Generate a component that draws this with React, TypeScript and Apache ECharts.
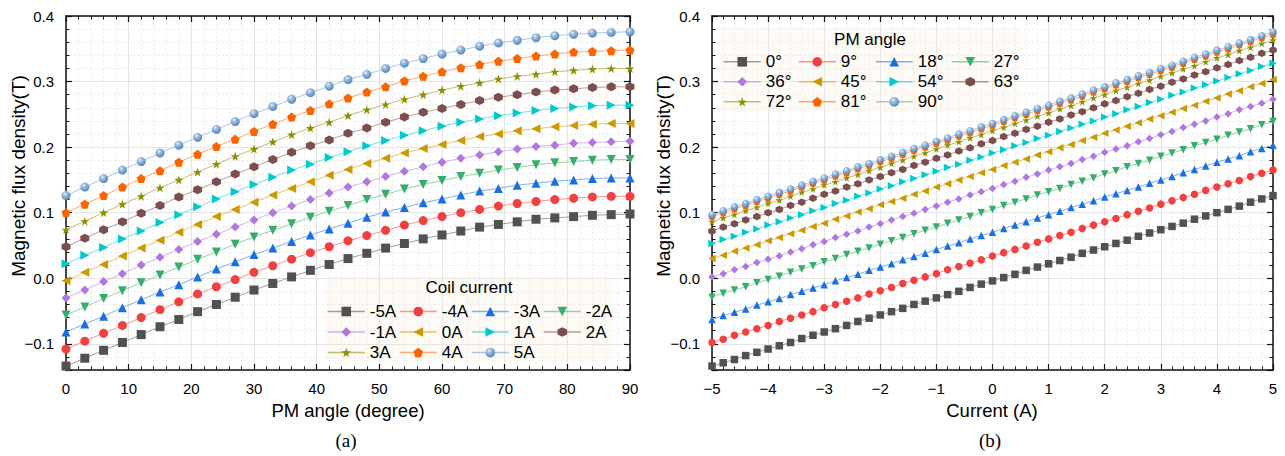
import React, { useEffect, useRef } from "react";
import * as echarts from "echarts";

// ---------- Data: chart (a) B vs PM angle for each coil current ----------
const pmAngles = [0, 3, 6, 9, 12, 15, 18, 21, 24, 27, 30, 33, 36, 39, 42, 45, 48, 51, 54, 57, 60, 63, 66, 69, 72, 75, 78, 81, 84, 87, 90];
const coilNames = ["-5A", "-4A", "-3A", "-2A", "-1A", "0A", "1A", "2A", "3A", "4A", "5A"];
const bCoilM5 = [-0.134, -0.122, -0.110, -0.098, -0.086, -0.074, -0.063, -0.051, -0.040, -0.029, -0.018, -0.008, 0.002, 0.012, 0.021, 0.030, 0.038, 0.046, 0.053, 0.060, 0.066, 0.072, 0.078, 0.082, 0.086, 0.090, 0.092, 0.094, 0.096, 0.097, 0.098];
const bCoilM4 = [-0.108, -0.096, -0.084, -0.072, -0.060, -0.048, -0.036, -0.024, -0.013, -0.002, 0.009, 0.019, 0.029, 0.039, 0.048, 0.057, 0.065, 0.073, 0.081, 0.088, 0.094, 0.100, 0.105, 0.110, 0.114, 0.117, 0.120, 0.122, 0.124, 0.125, 0.125];
const bCoilM3 = [-0.082, -0.070, -0.058, -0.045, -0.033, -0.021, -0.010, 0.002, 0.014, 0.025, 0.036, 0.046, 0.056, 0.066, 0.075, 0.084, 0.093, 0.101, 0.108, 0.115, 0.121, 0.127, 0.133, 0.137, 0.142, 0.145, 0.148, 0.150, 0.152, 0.153, 0.153];
const bCoilM2 = [-0.056, -0.044, -0.031, -0.019, -0.007, 0.005, 0.017, 0.029, 0.040, 0.052, 0.063, 0.073, 0.083, 0.093, 0.102, 0.111, 0.120, 0.128, 0.136, 0.143, 0.149, 0.155, 0.160, 0.165, 0.169, 0.173, 0.176, 0.178, 0.180, 0.181, 0.181];
const bCoilM1 = [-0.030, -0.018, -0.005, 0.007, 0.020, 0.032, 0.044, 0.056, 0.067, 0.078, 0.089, 0.100, 0.110, 0.120, 0.130, 0.139, 0.147, 0.155, 0.163, 0.170, 0.177, 0.183, 0.188, 0.193, 0.197, 0.201, 0.203, 0.206, 0.207, 0.208, 0.209];
const bCoil0 = [-0.004, 0.009, 0.021, 0.034, 0.046, 0.058, 0.070, 0.082, 0.094, 0.105, 0.116, 0.127, 0.137, 0.147, 0.157, 0.166, 0.175, 0.183, 0.191, 0.198, 0.204, 0.210, 0.216, 0.220, 0.225, 0.228, 0.231, 0.233, 0.235, 0.236, 0.236];
const bCoilP1 = [0.022, 0.035, 0.047, 0.060, 0.072, 0.085, 0.097, 0.109, 0.121, 0.132, 0.143, 0.154, 0.165, 0.174, 0.184, 0.193, 0.202, 0.210, 0.218, 0.225, 0.232, 0.238, 0.243, 0.248, 0.252, 0.256, 0.259, 0.261, 0.263, 0.264, 0.264];
const bCoilP2 = [0.048, 0.061, 0.074, 0.086, 0.099, 0.111, 0.124, 0.135, 0.147, 0.159, 0.170, 0.181, 0.192, 0.202, 0.211, 0.221, 0.229, 0.238, 0.246, 0.253, 0.259, 0.265, 0.271, 0.276, 0.280, 0.284, 0.287, 0.289, 0.291, 0.292, 0.292];
const bCoilP3 = [0.074, 0.087, 0.100, 0.113, 0.125, 0.138, 0.150, 0.162, 0.174, 0.186, 0.197, 0.208, 0.219, 0.229, 0.238, 0.248, 0.257, 0.265, 0.273, 0.280, 0.287, 0.293, 0.298, 0.304, 0.308, 0.311, 0.315, 0.317, 0.319, 0.320, 0.320];
const bCoilP4 = [0.100, 0.113, 0.126, 0.139, 0.152, 0.164, 0.177, 0.189, 0.201, 0.212, 0.224, 0.235, 0.246, 0.256, 0.266, 0.275, 0.284, 0.292, 0.301, 0.308, 0.315, 0.321, 0.326, 0.331, 0.335, 0.339, 0.342, 0.345, 0.346, 0.347, 0.348];
const bCoilP5 = [0.126, 0.139, 0.152, 0.165, 0.178, 0.191, 0.203, 0.215, 0.227, 0.239, 0.251, 0.262, 0.273, 0.283, 0.293, 0.303, 0.311, 0.320, 0.328, 0.335, 0.342, 0.348, 0.354, 0.359, 0.363, 0.367, 0.370, 0.372, 0.374, 0.375, 0.376];
const coilSeries = [bCoilM5, bCoilM4, bCoilM3, bCoilM2, bCoilM1, bCoil0, bCoilP1, bCoilP2, bCoilP3, bCoilP4, bCoilP5];

// ---------- Data: chart (b) B vs current for each PM angle ----------
const currents = [-5, -4.8, -4.6, -4.4, -4.2, -4, -3.8, -3.6, -3.4, -3.2, -3, -2.8, -2.6, -2.4, -2.2, -2, -1.8, -1.6, -1.4, -1.2, -1, -0.8, -0.6, -0.4, -0.2, 0, 0.2, 0.4, 0.6, 0.8, 1, 1.2, 1.4, 1.6, 1.8, 2, 2.2, 2.4, 2.6, 2.8, 3, 3.2, 3.4, 3.6, 3.8, 4, 4.2, 4.4, 4.6, 4.8, 5];
const angleNames = ["0°", "9°", "18°", "27°", "36°", "45°", "54°", "63°", "72°", "81°", "90°"];
const bAng0 = [-0.134, -0.129, -0.124, -0.118, -0.113, -0.108, -0.103, -0.098, -0.092, -0.087, -0.082, -0.077, -0.072, -0.066, -0.061, -0.056, -0.051, -0.046, -0.040, -0.035, -0.030, -0.025, -0.020, -0.014, -0.009, -0.004, 0.001, 0.006, 0.012, 0.017, 0.022, 0.027, 0.032, 0.038, 0.043, 0.048, 0.053, 0.058, 0.064, 0.069, 0.074, 0.079, 0.084, 0.090, 0.095, 0.100, 0.105, 0.110, 0.116, 0.121, 0.126];
const bAng9 = [-0.098, -0.093, -0.087, -0.082, -0.077, -0.072, -0.066, -0.061, -0.056, -0.051, -0.045, -0.040, -0.035, -0.030, -0.024, -0.019, -0.014, -0.008, -0.003, 0.002, 0.007, 0.013, 0.018, 0.023, 0.028, 0.034, 0.039, 0.044, 0.049, 0.055, 0.060, 0.065, 0.070, 0.076, 0.081, 0.086, 0.091, 0.097, 0.102, 0.107, 0.113, 0.118, 0.123, 0.128, 0.134, 0.139, 0.144, 0.149, 0.155, 0.160, 0.165];
const bAng18 = [-0.063, -0.057, -0.052, -0.047, -0.041, -0.036, -0.031, -0.025, -0.020, -0.015, -0.010, -0.004, 0.001, 0.006, 0.012, 0.017, 0.022, 0.028, 0.033, 0.038, 0.044, 0.049, 0.054, 0.060, 0.065, 0.070, 0.076, 0.081, 0.086, 0.092, 0.097, 0.102, 0.108, 0.113, 0.118, 0.124, 0.129, 0.134, 0.139, 0.145, 0.150, 0.155, 0.161, 0.166, 0.171, 0.177, 0.182, 0.187, 0.193, 0.198, 0.203];
const bAng27 = [-0.029, -0.023, -0.018, -0.013, -0.007, -0.002, 0.003, 0.009, 0.014, 0.019, 0.025, 0.030, 0.036, 0.041, 0.046, 0.052, 0.057, 0.062, 0.068, 0.073, 0.078, 0.084, 0.089, 0.094, 0.100, 0.105, 0.111, 0.116, 0.121, 0.127, 0.132, 0.137, 0.143, 0.148, 0.153, 0.159, 0.164, 0.170, 0.175, 0.180, 0.186, 0.191, 0.196, 0.202, 0.207, 0.212, 0.218, 0.223, 0.228, 0.234, 0.239];
const bAng36 = [0.002, 0.007, 0.013, 0.018, 0.024, 0.029, 0.034, 0.040, 0.045, 0.051, 0.056, 0.062, 0.067, 0.072, 0.078, 0.083, 0.089, 0.094, 0.099, 0.105, 0.110, 0.116, 0.121, 0.127, 0.132, 0.137, 0.143, 0.148, 0.154, 0.159, 0.165, 0.170, 0.175, 0.181, 0.186, 0.192, 0.197, 0.202, 0.208, 0.213, 0.219, 0.224, 0.230, 0.235, 0.240, 0.246, 0.251, 0.257, 0.262, 0.267, 0.273];
const bAng45 = [0.030, 0.035, 0.041, 0.046, 0.051, 0.057, 0.062, 0.068, 0.073, 0.079, 0.084, 0.090, 0.095, 0.101, 0.106, 0.112, 0.117, 0.122, 0.128, 0.133, 0.139, 0.144, 0.150, 0.155, 0.161, 0.166, 0.172, 0.177, 0.182, 0.188, 0.193, 0.199, 0.204, 0.210, 0.215, 0.221, 0.226, 0.232, 0.237, 0.243, 0.248, 0.253, 0.259, 0.264, 0.270, 0.275, 0.281, 0.286, 0.292, 0.297, 0.303];
const bAng54 = [0.053, 0.059, 0.064, 0.070, 0.075, 0.081, 0.086, 0.092, 0.097, 0.103, 0.108, 0.114, 0.119, 0.125, 0.130, 0.136, 0.141, 0.147, 0.152, 0.158, 0.163, 0.169, 0.174, 0.180, 0.185, 0.191, 0.196, 0.202, 0.207, 0.213, 0.218, 0.224, 0.229, 0.235, 0.240, 0.246, 0.251, 0.257, 0.262, 0.268, 0.273, 0.279, 0.284, 0.290, 0.295, 0.301, 0.306, 0.312, 0.317, 0.323, 0.328];
const bAng63 = [0.072, 0.078, 0.083, 0.089, 0.094, 0.100, 0.105, 0.111, 0.116, 0.122, 0.128, 0.133, 0.139, 0.144, 0.150, 0.155, 0.161, 0.166, 0.172, 0.177, 0.183, 0.188, 0.194, 0.199, 0.205, 0.210, 0.216, 0.221, 0.227, 0.232, 0.238, 0.243, 0.249, 0.254, 0.260, 0.266, 0.271, 0.277, 0.282, 0.288, 0.293, 0.299, 0.304, 0.310, 0.315, 0.321, 0.326, 0.332, 0.337, 0.343, 0.348];
const bAng72 = [0.086, 0.092, 0.097, 0.103, 0.108, 0.114, 0.119, 0.125, 0.131, 0.136, 0.142, 0.147, 0.153, 0.158, 0.164, 0.169, 0.175, 0.180, 0.186, 0.191, 0.197, 0.203, 0.208, 0.214, 0.219, 0.225, 0.230, 0.236, 0.241, 0.247, 0.252, 0.258, 0.263, 0.269, 0.275, 0.280, 0.286, 0.291, 0.297, 0.302, 0.308, 0.313, 0.319, 0.324, 0.330, 0.336, 0.341, 0.347, 0.352, 0.358, 0.363];
const bAng81 = [0.094, 0.100, 0.106, 0.111, 0.117, 0.122, 0.128, 0.133, 0.139, 0.145, 0.150, 0.156, 0.161, 0.167, 0.172, 0.178, 0.183, 0.189, 0.195, 0.200, 0.206, 0.211, 0.217, 0.222, 0.228, 0.233, 0.239, 0.245, 0.250, 0.256, 0.261, 0.267, 0.272, 0.278, 0.284, 0.289, 0.295, 0.300, 0.306, 0.311, 0.317, 0.322, 0.328, 0.334, 0.339, 0.345, 0.350, 0.356, 0.361, 0.367, 0.372];
const bAng90 = [0.097, 0.103, 0.109, 0.114, 0.120, 0.125, 0.131, 0.136, 0.142, 0.148, 0.153, 0.159, 0.164, 0.170, 0.175, 0.181, 0.186, 0.192, 0.198, 0.203, 0.209, 0.214, 0.220, 0.225, 0.231, 0.236, 0.242, 0.248, 0.253, 0.259, 0.264, 0.270, 0.275, 0.281, 0.287, 0.292, 0.298, 0.303, 0.309, 0.314, 0.320, 0.325, 0.331, 0.337, 0.342, 0.348, 0.353, 0.359, 0.364, 0.370, 0.376];
const angleSeries = [bAng0, bAng9, bAng18, bAng27, bAng36, bAng45, bAng54, bAng63, bAng72, bAng81, bAng90];

// ---------- Styling ----------
const FONT = "'Liberation Sans', Arial, Helvetica, sans-serif";
const SERIF = "'Liberation Serif', 'Times New Roman', serif";
const colors = ["#515151", "#F14040", "#1A6FDF", "#37AD6B", "#B177DE", "#CC9900", "#00CBCC", "#7D4E4E", "#8E8E00", "#FB6501", "#6699CC"];
const symbols = [
  "rect",
  "circle",
  "triangle",
  "path://M0,0 L100,0 L50,87 Z",
  "diamond",
  "path://M0,50 L87,0 L87,100 Z",
  "path://M0,0 L87,50 L0,100 Z",
  "path://M50,0 L93.3,25 L93.3,75 L50,100 L6.7,75 L6.7,25 Z",
  "path://M50,0 L61.8,35.1 L98.9,35.1 L68.9,56.8 L80.3,91.9 L50,70.2 L19.7,91.9 L31.1,56.8 L1.1,35.1 L38.2,35.1 Z",
  "path://M50,0 L97.6,34.5 L79.4,90.5 L20.6,90.5 L2.4,34.5 Z",
  "circle",
];

function rgba(hex: string, a: number) {
  const n = parseInt(hex.slice(1), 16);
  return `rgba(${(n >> 16) & 255},${(n >> 8) & 255},${n & 255},${a})`;
}

function fillFor(i: number): any {
  if (i === 10) {
    return {
      type: "radial", x: 0.38, y: 0.32, r: 0.72,
      colorStops: [
        { offset: 0, color: "#eef4fb" },
        { offset: 0.3, color: "#9dbfe2" },
        { offset: 1, color: "#4d80b8" },
      ],
    };
  }
  return colors[i];
}

const AX = "#111";
const tickLabel = { fontSize: 15, fontFamily: FONT, color: "#000" };

function fmtY(v: number) {
  if (Math.abs(v * 10 - Math.round(v * 10)) > 1e-6) return "";
  const s = v.toFixed(1);
  return s.startsWith("-") ? "\u2212" + s.slice(1) : s;
}
function fmtX(v: number) {
  return v < 0 ? "\u2212" + Math.abs(v) : String(v);
}

function xAxes(gridIndex: number, min: number, max: number, interval: number, fmt: (v: number) => string) {
  const common = {
    type: "value", gridIndex, min, max, interval,
    axisLine: { show: true, onZero: false, lineStyle: { color: AX, width: 1.5 } },
    axisTick: { show: true, inside: true, length: 6, lineStyle: { color: AX, width: 1.2 } },
    minorTick: { show: true, splitNumber: 5, length: 3.5, lineStyle: { color: AX, width: 1 } },
  };
  return [
    {
      ...common, position: "bottom",
      axisLabel: { ...tickLabel, margin: 11, formatter: fmt },
      splitLine: { show: true, lineStyle: { color: "#e4e4e4", width: 1 } },
      minorSplitLine: { show: true, lineStyle: { color: "#ececec", width: 1, type: [2, 2] } },
    },
    {
      ...common, position: "top",
      axisLabel: { show: false },
      splitLine: { show: false },
      minorSplitLine: { show: false },
    },
  ];
}

function yAxes(gridIndex: number) {
  const base = { type: "value", gridIndex, min: -0.14, max: 0.4 };
  const line = { show: true, onZero: false, lineStyle: { color: AX, width: 1.5 } };
  const major = (position: string, labels: boolean) => ({
    ...base, position, splitNumber: 5,
    axisLine: line,
    axisTick: { show: true, inside: true, length: 6, lineStyle: { color: AX, width: 1.2 } },
    axisLabel: labels ? { ...tickLabel, margin: 12, formatter: fmtY } : { show: false },
    splitLine: labels ? { show: true, lineStyle: { color: "#e4e4e4", width: 1 } } : { show: false },
  });
  const minor = (position: string, grid: boolean) => ({
    ...base, position, interval: 0.02,
    axisLine: { show: false, onZero: false },
    axisTick: { show: true, inside: true, length: 3.5, lineStyle: { color: AX, width: 1 } },
    axisLabel: { show: false },
    splitLine: grid ? { show: true, lineStyle: { color: "#ececec", width: 1, type: [2, 2] } } : { show: false },
  });
  return [minor("left", true), major("left", true), major("right", false), minor("right", false)];
}

function makeSeries(names: string[], xs: number[], ys: number[][], xIdx: number, yIdx: number, size: number) {
  return names.map((name, i) => ({
    type: "line", name, xAxisIndex: xIdx, yAxisIndex: yIdx,
    data: xs.map((x, k) => [x, ys[i][k]]),
    symbol: symbols[i], symbolSize: size, showSymbol: true,
    itemStyle: { color: fillFor(i) },
    lineStyle: { color: rgba(colors[i], 0.55), width: 1 },
    emphasis: { disabled: true }, silent: true, animation: false,
  }));
}

function makeLegends(names: string[], cols: number[], rows: number[]) {
  return names.map((name, i) => ({
    data: [name], left: cols[i % 4], top: rows[Math.floor(i / 4)] - 6,
    padding: 0, itemWidth: 37, itemHeight: 12, itemGap: 0, selectedMode: false,
    textStyle: { fontSize: 17, fontFamily: FONT, color: "#000", lineHeight: 12 },
    lineStyle: { width: 1.5 },
  }));
}

export default function App() {
  const ref = useRef<HTMLDivElement>(null);
  useEffect(() => {
    document.body.style.margin = "0";
    const chart = echarts.init(ref.current!, undefined, { renderer: "svg" });
    const xa = [...xAxes(0, 0, 90, 10, (v) => String(v)), ...xAxes(1, -5, 5, 1, fmtX)];
    const ya = [...yAxes(0), ...yAxes(1)];
    const series = [
      ...makeSeries(coilNames, pmAngles, coilSeries, 0, 1, 9),
      ...makeSeries(angleNames, currents, angleSeries, 2, 5, 7.5),
    ];
    const legend = [
      ...makeLegends(coilNames, [327, 399, 471, 543], [309, 329.5, 350]),
      ...makeLegends(angleNames, [723, 798, 875, 951], [59.3, 79.3, 99.3]),
    ];
    const txt = (text: string, x: number, y: number, size: number, rot = 0, family = FONT) => ({
      type: "text", x, y, rotation: rot, z: 100,
      style: { text, fontSize: size, fontFamily: family, fill: "#000", align: "center", verticalAlign: "middle" },
    });
    chart.setOption({
      animation: false,
      backgroundColor: "#fff",
      grid: [
        { left: 66, top: 16, width: 564, height: 354 },
        { left: 712, top: 16, width: 561, height: 354 },
      ],
      xAxis: xa,
      yAxis: ya,
      series,
      legend,
      graphic: [
        { type: "rect", shape: { x: 325, y: 277, width: 288, height: 85 }, style: { fill: "rgba(250,232,215,0.22)" }, z: 1 },
        { type: "rect", shape: { x: 721, y: 27, width: 299, height: 85 }, style: { fill: "rgba(250,232,215,0.22)" }, z: 1 },
        txt("Coil current", 469, 287, 17),
        txt("PM angle", 870, 39, 17),
        txt("Magnetic flux density(T)", 18, 176, 19, Math.PI / 2),
        txt("Magnetic flux density(T)", 663, 176, 19, Math.PI / 2),
        txt("PM angle (degree)", 348, 410, 18.5),
        txt("Current (A)", 992, 410, 18.5),
        txt("(a)", 346, 440, 19, 0, SERIF),
        txt("(b)", 990, 440, 19, 0, SERIF),
      ],
    });
    return () => chart.dispose();
  }, []);
  return <div ref={ref} style={{ width: 1285, height: 456 }} />;
}
